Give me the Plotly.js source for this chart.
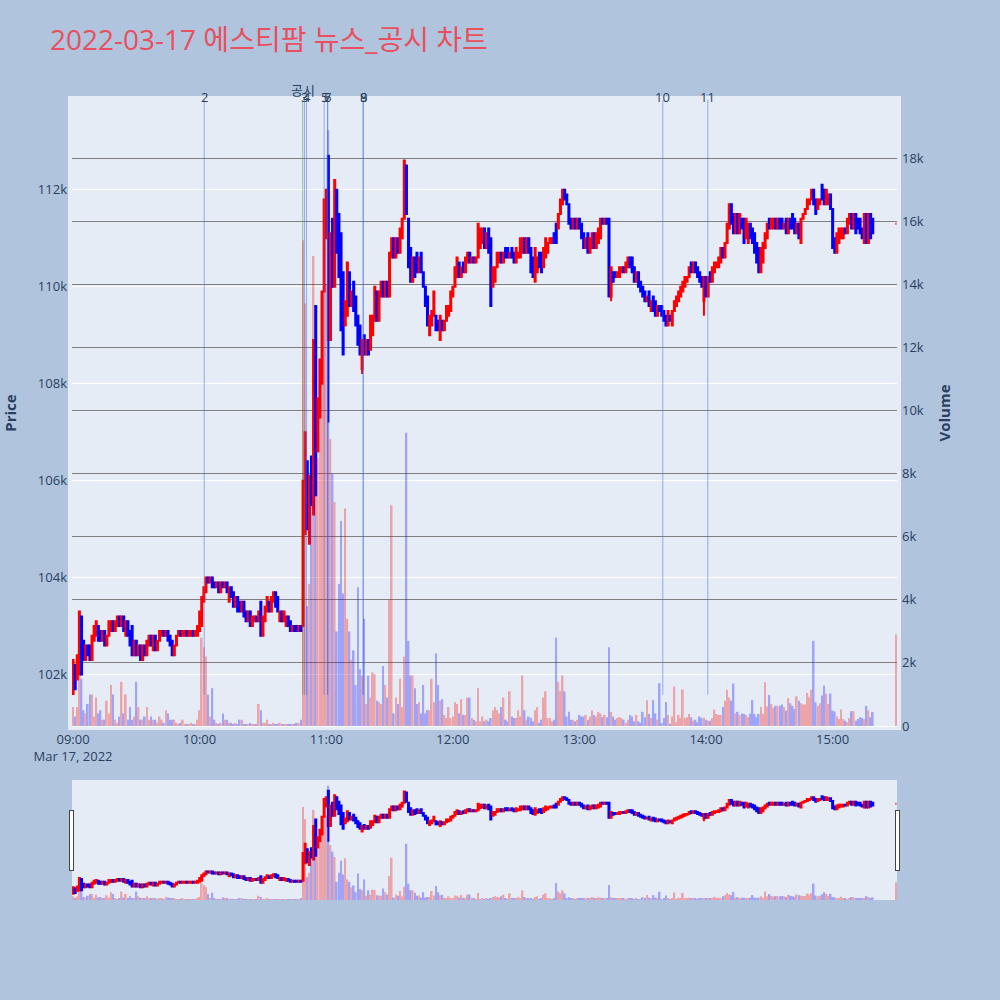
<!DOCTYPE html>
<html>
<head>
<meta charset="utf-8">
<script src="https://cdn.plot.ly/plotly-3.0.1.min.js"></script>
<style>html,body{margin:0;padding:0;background:#B0C4DE;}</style>
</head>
<body>
<div id="chart" style="width:1000px;height:1000px;"></div>
<script>
// 1-minute candles, 09:00 ~ 15:19 plus the 15:30 closing print
// prices are written in units of 100 won
const PRICE_STEP = 100;
const day = '2022-03-17';

const opens = [
    1016,1022,1019,1020,1032,1027,1023,1026,1026,1023,
    1027,1028,1030,1029,1027,1029,1026,1028,1029,1031,
    1029,1030,1032,1030,1032,1028,1031,1029,1030,1024,
    1027,1024,1026,1023,1026,1024,1026,1028,1025,1028,
    1025,1027,1028,1029,1028,1029,1028,1027,1024,1026,
    1028,1029,1028,1028,1029,1028,1028,1029,1028,1028,
    1029,1030,1035,1037,1040,1039,1040,1039,1038,1039,
    1037,1039,1038,1039,1035,1038,1037,1034,1036,1035,
    1033,1035,1033,1031,1033,1030,1031,1032,1031,1035,
    1028,1031,1033,1035,1033,1035,1037,1036,1031,1033,
    1031,1030,1032,1031,1029,1030,1030,1029,1030,
    1030,1049,1064,1047,1065,1053,1096,1066,1073,1080,1099,
    1110,1127,1089,1114,1100,1120,1115,1111,1103,1092,
    1094,1103,1096,1101,1098,1094,1092,1083,1090,1086,
    1089,1087,1090,1093,1099,1093,1098,1101,1098,1101,
    1098,1106,1110,1106,1110,1107,1110,1114,1125,1114,
    1108,1101,1106,1107,1103,1107,1103,1100,1098,1090,
    1092,1094,1094,1093,1089,1093,1091,1093,1094,1095,
    1098,1100,1102,1105,1102,1105,1103,1105,1107,1105,
    1106,1105,1106,1108,1109,1112,1108,1112,1110,1100,
    1101,1104,1105,1107,1105,1108,1108,1106,1108,1107,
    1105,1106,1106,1107,1110,1107,1110,1108,1106,1101,
    1103,1107,1107,1104,1106,1107,1109,1109,1111,1113,
    1112,1115,1117,1120,1119,1117,1114,1112,1114,1112,
    1114,1113,1111,1108,1111,1107,1108,1111,1108,1109,
    1110,1114,1113,1114,1114,1098,1103,1103,1102,1102,
    1103,1104,1103,1104,1106,1106,1104,1101,1103,1101,
    1100,1099,1097,1099,1095,1098,1097,1094,1096,1096,
    1095,1094,1092,1094,1092,1095,1096,1097,1098,1099,
    1100,1101,1102,1105,1103,1105,1104,1103,1102,1097,
    1102,1098,1103,1101,1103,1104,1104,1105,1108,1106,
    1109,1112,1117,1115,1111,1115,1111,1114,1114,1110,
    1109,1113,1112,1111,1109,1108,1103,1105,1108,1110,
    1114,1112,1112,1114,1112,1114,1114,1112,1114,1111,
    1114,1115,1114,1111,1113,1109,1114,1115,1116,1117,
    1118,1120,1118,1116,1117,1121,1120,1117,1117,1119,
    1116,1110,1107,1109,1110,1110,1112,1111,1113,1115,
    1112,1115,1114,1114,1112,1109,1115,1109,1115,1114,
    1113
];

const highs = [
    1023,1022,1024,1033,1032,1027,1026,1026,1026,1028,
    1030,1031,1030,1029,1029,1029,1028,1031,1031,1031,
    1031,1032,1032,1032,1032,1031,1031,1029,1030,1027,
    1027,1026,1026,1026,1026,1027,1028,1028,1028,1028,
    1027,1029,1029,1029,1029,1029,1028,1027,1026,1028,
    1029,1029,1029,1029,1029,1029,1029,1029,1029,1030,
    1033,1036,1038,1040,1040,1040,1040,1039,1039,1039,
    1039,1039,1039,1039,1038,1038,1037,1036,1036,1035,
    1035,1035,1033,1033,1033,1032,1032,1032,1033,1035,
    1032,1034,1036,1035,1036,1037,1037,1036,1033,1033,
    1033,1032,1032,1031,1030,1030,1030,1030,1030,
    1060,1070,1064,1061,1065,1089,1096,1077,1085,1099,1118,
    1120,1127,1111,1114,1122,1120,1115,1111,1103,1097,
    1105,1103,1099,1101,1098,1094,1092,1089,1090,1089,
    1089,1094,1094,1100,1099,1099,1101,1101,1101,1101,
    1107,1110,1110,1110,1110,1112,1114,1126,1125,1114,
    1108,1106,1106,1107,1106,1107,1103,1100,1098,1094,
    1095,1099,1094,1093,1094,1093,1093,1096,1096,1099,
    1100,1104,1106,1105,1104,1105,1106,1107,1107,1106,
    1106,1106,1113,1112,1112,1112,1111,1112,1110,1104,
    1104,1107,1107,1107,1107,1108,1108,1107,1108,1107,
    1108,1107,1110,1110,1110,1110,1110,1108,1106,1108,
    1106,1107,1107,1108,1110,1109,1110,1110,1111,1113,
    1115,1118,1120,1120,1119,1117,1114,1114,1114,1114,
    1114,1113,1111,1110,1111,1110,1111,1111,1111,1112,
    1114,1114,1114,1114,1114,1104,1103,1103,1103,1104,
    1104,1104,1105,1106,1106,1106,1104,1103,1103,1101,
    1100,1099,1098,1099,1097,1098,1097,1096,1096,1096,
    1095,1094,1095,1094,1095,1097,1098,1099,1100,1101,
    1102,1102,1104,1105,1105,1105,1104,1103,1102,1102,
    1102,1102,1103,1104,1105,1105,1106,1108,1108,1109,
    1113,1117,1117,1115,1115,1115,1115,1114,1114,1114,
    1113,1113,1112,1111,1109,1108,1108,1109,1111,1113,
    1114,1114,1114,1114,1114,1114,1114,1113,1114,1114,
    1114,1115,1114,1113,1113,1114,1115,1116,1118,1118,
    1120,1120,1118,1118,1118,1121,1120,1120,1119,1119,
    1116,1110,1111,1112,1112,1112,1112,1114,1115,1115,
    1115,1115,1114,1114,1112,1115,1115,1115,1115,1114,
    1113
];

const lows = [
    1016,1017,1019,1020,1020,1023,1023,1024,1023,1023,
    1027,1028,1027,1027,1027,1026,1026,1028,1029,1029,
    1029,1030,1030,1030,1029,1028,1028,1026,1024,1024,
    1024,1024,1023,1023,1024,1024,1026,1026,1025,1025,
    1025,1027,1028,1028,1028,1027,1026,1024,1024,1026,
    1028,1028,1028,1028,1028,1028,1028,1028,1028,1028,
    1029,1030,1035,1037,1039,1039,1038,1038,1038,1037,
    1037,1038,1038,1037,1035,1036,1034,1034,1033,1033,
    1033,1032,1031,1031,1030,1030,1031,1031,1031,1028,
    1028,1031,1033,1033,1033,1035,1034,1033,1031,1031,
    1031,1030,1030,1029,1029,1029,1029,1029,1029,
    1030,1049,1050,1047,1055,1053,1057,1066,1073,1080,1099,
    1110,1072,1089,1100,1100,1107,1102,1091,1086,1092,
    1094,1096,1096,1095,1092,1088,1086,1082,1086,1086,
    1086,1087,1090,1093,1093,1093,1098,1098,1098,1098,
    1098,1106,1106,1106,1107,1107,1110,1114,1115,1104,
    1101,1101,1102,1103,1103,1103,1100,1096,1092,1090,
    1092,1094,1091,1091,1089,1091,1091,1093,1094,1095,
    1098,1100,1102,1102,1102,1103,1103,1105,1105,1105,
    1105,1105,1106,1108,1109,1108,1108,1107,1096,1100,
    1101,1104,1105,1105,1105,1106,1106,1106,1106,1105,
    1105,1106,1106,1107,1107,1107,1107,1103,1102,1101,
    1103,1104,1103,1104,1106,1107,1109,1109,1109,1109,
    1112,1115,1117,1118,1117,1113,1112,1112,1112,1112,
    1112,1110,1108,1108,1107,1107,1108,1108,1108,1109,
    1110,1113,1113,1113,1098,1097,1101,1102,1102,1102,
    1103,1103,1103,1104,1104,1103,1101,1101,1100,1099,
    1098,1097,1097,1096,1095,1095,1094,1094,1095,1094,
    1093,1092,1092,1093,1092,1095,1096,1097,1098,1099,
    1100,1101,1102,1103,1103,1103,1102,1101,1100,1094,
    1098,1098,1101,1101,1103,1104,1104,1105,1106,1106,
    1109,1112,1113,1111,1111,1111,1111,1112,1109,1110,
    1109,1110,1109,1107,1105,1103,1103,1105,1108,1110,
    1112,1112,1112,1112,1112,1112,1112,1112,1111,1111,
    1112,1112,1111,1111,1110,1109,1114,1115,1116,1117,
    1118,1117,1115,1116,1117,1118,1117,1117,1117,1116,
    1108,1107,1107,1109,1110,1110,1111,1111,1113,1112,
    1112,1111,1112,1111,1110,1109,1109,1109,1110,1111,
    1113
];

const closes = [
    1023,1017,1024,1033,1020,1023,1026,1024,1023,1028,
    1030,1031,1027,1027,1029,1026,1028,1031,1031,1029,
    1031,1032,1030,1032,1029,1031,1028,1026,1024,1027,
    1024,1026,1023,1026,1024,1027,1028,1026,1028,1025,
    1027,1029,1029,1028,1029,1027,1026,1024,1026,1028,
    1029,1028,1029,1029,1028,1029,1029,1028,1029,1030,
    1033,1036,1038,1040,1039,1040,1038,1038,1039,1037,
    1039,1038,1039,1037,1038,1036,1034,1036,1033,1033,
    1035,1032,1031,1033,1030,1032,1032,1031,1033,1028,
    1032,1034,1036,1033,1036,1037,1034,1033,1033,1031,
    1033,1032,1030,1029,1030,1029,1029,1030,1029,
    1060,1070,1050,1061,1055,1089,1057,1077,1085,1099,1118,
    1120,1089,1111,1100,1122,1107,1102,1091,1086,1097,
    1105,1096,1099,1095,1092,1088,1086,1089,1086,1089,
    1086,1094,1094,1100,1093,1099,1101,1098,1101,1098,
    1107,1110,1106,1110,1107,1112,1114,1126,1115,1104,
    1101,1106,1102,1103,1106,1103,1100,1096,1092,1094,
    1095,1099,1091,1091,1094,1091,1093,1096,1096,1099,
    1100,1104,1106,1102,1104,1103,1106,1107,1105,1106,
    1105,1106,1113,1112,1112,1108,1111,1107,1096,1104,
    1104,1107,1107,1105,1107,1106,1106,1107,1106,1105,
    1108,1107,1110,1110,1107,1110,1107,1103,1102,1108,
    1106,1104,1103,1108,1110,1109,1110,1110,1109,1109,
    1115,1118,1120,1118,1117,1113,1112,1114,1112,1114,
    1112,1110,1108,1110,1107,1110,1111,1108,1111,1112,
    1114,1113,1114,1113,1098,1104,1101,1102,1103,1104,
    1104,1103,1105,1106,1104,1103,1101,1103,1100,1099,
    1098,1097,1098,1096,1097,1095,1094,1096,1095,1094,
    1093,1092,1095,1093,1095,1097,1098,1099,1100,1101,
    1102,1102,1104,1103,1105,1103,1102,1101,1100,1102,
    1098,1102,1101,1104,1105,1105,1106,1108,1106,1109,
    1113,1117,1113,1111,1115,1111,1115,1112,1109,1114,
    1113,1110,1109,1107,1105,1103,1108,1109,1111,1113,
    1112,1114,1114,1112,1114,1112,1112,1113,1111,1114,
    1112,1112,1111,1113,1110,1114,1115,1116,1118,1118,
    1120,1117,1115,1118,1118,1118,1117,1120,1119,1116,
    1108,1107,1111,1112,1112,1112,1111,1114,1115,1112,
    1115,1111,1112,1111,1110,1115,1109,1115,1110,1111,
    1113
];

const volumes = [
    600,300,600,2000,1500,500,400,700,1000,1000,
    300,900,400,500,200,200,800,400,1300,1000,
    200,100,300,1400,400,1000,200,600,200,300,
    1400,600,200,200,300,600,200,300,200,200,
    100,300,200,100,500,400,200,200,200,100,
    50,100,200,70,50,50,100,50,50,200,
    500,2800,2500,2200,1000,300,1200,200,100,50,
    100,400,200,200,100,100,50,100,50,200,
    200,50,50,50,100,50,50,50,700,500,
    100,100,200,50,50,100,50,50,100,50,
    50,50,50,70,50,50,100,100,200,
    15400,13400,3800,4500,7000,14900,11000,8500,10000,12500,16600,
    14000,18900,9100,8000,7100,3000,4500,6500,4200,6900,
    3400,3000,2100,2400,1300,4400,1800,1600,3400,700,
    1600,900,1700,1650,800,750,700,1900,1300,900,
    4000,7000,400,900,700,1500,600,2200,9300,2700,
    1600,1600,1200,700,750,400,1300,400,500,500,
    1500,750,2300,1300,800,850,350,250,600,250,
    300,750,700,400,850,350,350,900,900,250,
    200,150,1200,150,300,150,200,150,250,500,
    600,500,400,600,900,200,150,1100,300,250,
    250,500,300,1600,500,200,300,250,150,500,
    600,100,200,900,1100,250,250,150,200,2800,
    1400,1100,1600,1100,300,450,200,200,150,200,
    350,300,300,350,200,300,500,350,300,440,
    400,280,350,280,2500,440,300,200,250,280,
    250,200,100,200,350,300,150,350,150,100,
    450,280,820,380,250,820,400,200,1360,100,
    250,760,350,70,300,1250,120,350,250,1160,
    250,280,380,280,170,200,120,300,250,270,
    200,170,170,250,520,380,350,350,600,800,
    1150,900,800,1350,400,450,350,400,380,350,
    280,390,820,380,280,380,600,390,1390,620,
    980,700,570,640,640,640,680,600,490,880,
    720,640,540,940,800,720,680,680,1050,910,
    1150,2700,750,640,720,970,1280,1020,700,1030,
    490,460,300,220,520,220,170,120,250,470,
    470,170,220,280,260,220,640,490,280,440,
    2900
];

// news / disclosure markers
const newsLabels = ['2', '공시', '3', '4', '5', '6', '7', '8', '9', '10', '11'];
const newsTimes = ['10:02:10', '10:48:50', '10:49:40', '10:50:40', '10:59:00', '11:00:40',
                   '11:00:40', '11:17:30', '11:17:30', '13:39:30', '14:00:50'];

// minute stamps for the continuous session, then the closing auction print
const times = [];
for (let i = 0; i < opens.length - 1; i++) {
    const h = 9 + Math.floor(i / 60);
    const m = i % 60;
    times.push(`${day} ${String(h).padStart(2, '0')}:${String(m).padStart(2, '0')}`);
}
times.push(`${day} 15:30`);

const toWon = arr => arr.map(v => v * PRICE_STEP);

const candleTrace = {
    type: 'candlestick',
    x: times,
    open: toWon(opens),
    high: toWon(highs),
    low: toWon(lows),
    close: toWon(closes),
    increasing: { line: { color: 'red' }, fillcolor: 'red' },
    decreasing: { line: { color: 'blue' }, fillcolor: 'blue' },
    yaxis: 'y',
    hoverinfo: 'skip',
    showlegend: false
};

const volumeTrace = {
    type: 'bar',
    x: times,
    y: volumes,
    marker: { color: closes.map((c, i) => c >= opens[i] ? 'red' : 'blue') },
    opacity: 0.3,
    yaxis: 'y2',
    hoverinfo: 'skip',
    showlegend: false
};

const shapes = newsTimes.map((t, i) => ({
    type: 'line',
    xref: 'x', yref: 'paper',
    x0: `${day} ${t}`, x1: `${day} ${t}`,
    y0: 0.05, y1: 1,
    line: { color: newsLabels[i] === '공시' ? 'green' : 'royalblue', width: 1 },
    opacity: newsLabels[i] === '공시' ? 0.35 : 0.5
}));

const annotations = newsTimes.map((t, i) => ({
    x: `${day} ${t}`, xref: 'x',
    y: newsLabels[i] === '공시' ? 1.016 : 1.005, yref: 'paper',
    yanchor: 'middle',
    text: newsLabels[i],
    showarrow: false,
    font: { size: 13, color: '#2a3f5f' }
}));

const layout = {
    width: 1000,
    height: 1000,
    paper_bgcolor: '#B0C4DE',
    plot_bgcolor: '#E5ECF6',
    font: { family: '"Open Sans", "Noto Sans CJK KR", verdana, arial, sans-serif', size: 13, color: '#2a3f5f' },
    title: {
        text: '2022-03-17 에스티팜 뉴스_공시 차트',
        font: { size: 28, color: '#E8505F' },
        x: 0.05, xanchor: 'left',
        y: 0.96, yanchor: 'middle'
    },
    margin: { l: 72, r: 103, t: 100, b: 100, pad: 4 },
    showlegend: false,
    xaxis: {
        type: 'date',
        range: [`${day} 08:59:30`, `${day} 15:30:30`],
        showgrid: false,
        rangeslider: { visible: true, thickness: 0.15, bgcolor: '#E5ECF6' }
    },
    yaxis: {
        title: { text: '<b>Price</b>', font: { size: 15 }, standoff: 30 },
        range: [100940, 113850],
        gridcolor: 'white',
        zeroline: false
    },
    yaxis2: {
        title: { text: '<b>Volume</b>', font: { size: 15 }, standoff: 20 },
        overlaying: 'y',
        side: 'right',
        range: [0, 19850],
        gridcolor: 'gray',
        zerolinecolor: 'white'
    },
    shapes: shapes,
    annotations: annotations
};

Plotly.newPlot('chart', [candleTrace, volumeTrace], layout, { displayModeBar: false });
</script>
</body>
</html>
